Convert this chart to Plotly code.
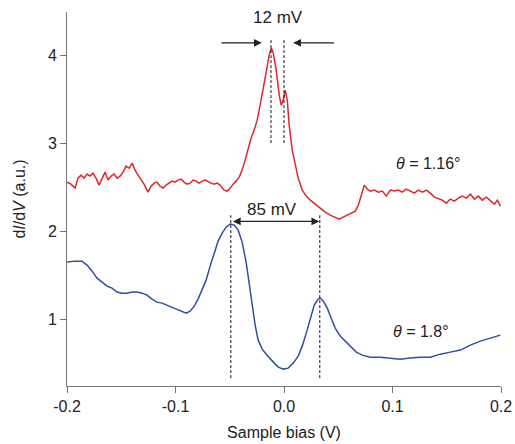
import plotly.graph_objects as go

# Red curve (theta = 1.16 deg)
red_x = [-0.200, -0.1963, -0.1926, -0.1899, -0.1871, -0.1843, -0.1815, -0.1788, -0.1760, -0.1732,
         -0.1705, -0.1677, -0.1649, -0.1622, -0.1594, -0.1566, -0.1539, -0.1511, -0.1483, -0.1456,
         -0.1428, -0.1400, -0.1373, -0.1345, -0.1317, -0.1290, -0.1253, -0.1225, -0.1197, -0.1170,
         -0.1142, -0.1114, -0.1087, -0.1059, -0.1031, -0.1004, -0.0976, -0.0948, -0.0921, -0.0893,
         -0.0865, -0.0838, -0.0810, -0.0782, -0.0755, -0.0727, -0.0699, -0.0672, -0.0644, -0.0616,
         -0.0589, -0.0552, -0.0524, -0.0496, -0.0469, -0.0441, -0.0413, -0.0386, -0.0358, -0.0330,
         -0.0303, -0.0275, -0.0247, -0.0220, -0.0192, -0.0164, -0.0137, -0.0118, -0.0100, -0.0072,
         -0.0044, -0.0026, -0.0007, 0.0011, 0.0030, 0.0048, 0.0076, 0.0103, 0.0131, 0.0168,
         0.0205, 0.0242, 0.0288, 0.0334, 0.0380, 0.0426, 0.0472, 0.0509, 0.0546, 0.0583,
         0.0620, 0.0657, 0.0685, 0.0712, 0.0740, 0.0768, 0.0795, 0.0832, 0.0869, 0.0906,
         0.0943, 0.0980, 0.1017, 0.1054, 0.1090, 0.1127, 0.1164, 0.1201, 0.1238, 0.1275,
         0.1312, 0.1349, 0.1386, 0.1423, 0.1459, 0.1496, 0.1533, 0.1570, 0.1607, 0.1644,
         0.1681, 0.1718, 0.1755, 0.1791, 0.1828, 0.1865, 0.1902, 0.1939, 0.1967, 0.1994]
red_y = [2.557, 2.534, 2.489, 2.602, 2.636, 2.602, 2.648, 2.625, 2.659, 2.602,
         2.523, 2.602, 2.670, 2.580, 2.625, 2.648, 2.602, 2.625, 2.670, 2.739,
         2.716, 2.773, 2.693, 2.636, 2.580, 2.534, 2.443, 2.511, 2.545, 2.557,
         2.511, 2.489, 2.523, 2.545, 2.568, 2.557, 2.580, 2.591, 2.557, 2.534,
         2.545, 2.580, 2.568, 2.545, 2.568, 2.580, 2.557, 2.545, 2.534, 2.545,
         2.523, 2.466, 2.455, 2.489, 2.534, 2.568, 2.614, 2.693, 2.807, 2.943,
         3.057, 3.148, 3.261, 3.432, 3.602, 3.807, 4.000, 4.080, 4.034, 3.830,
         3.545, 3.432, 3.489, 3.602, 3.489, 3.205, 2.920, 2.750, 2.602, 2.466,
         2.398, 2.352, 2.307, 2.261, 2.216, 2.182, 2.159, 2.136, 2.159, 2.182,
         2.205, 2.227, 2.295, 2.409, 2.523, 2.477, 2.455, 2.466, 2.443, 2.455,
         2.398, 2.466, 2.455, 2.466, 2.443, 2.477, 2.455, 2.432, 2.466, 2.443,
         2.466, 2.432, 2.386, 2.364, 2.352, 2.318, 2.364, 2.341, 2.375, 2.398,
         2.375, 2.420, 2.364, 2.398, 2.352, 2.386, 2.341, 2.307, 2.352, 2.284]

# Blue curve (theta = 1.8 deg)
blue_x = [-0.200, -0.1926, -0.1862, -0.1815, -0.1769, -0.1723, -0.1677, -0.1631, -0.1585, -0.1539,
          -0.1493, -0.1446, -0.1400, -0.1354, -0.1308, -0.1262, -0.1216, -0.1170, -0.1124, -0.1077,
          -0.1031, -0.0985, -0.0939, -0.0902, -0.0865, -0.0828, -0.0792, -0.0755, -0.0718, -0.0681,
          -0.0644, -0.0607, -0.0570, -0.0533, -0.0496, -0.0459, -0.0422, -0.0386, -0.0349, -0.0321,
          -0.0293, -0.0266, -0.0238, -0.0201, -0.0164, -0.0127, -0.0090, -0.0053, -0.0007, 0.0039,
          0.0085, 0.0131, 0.0168, 0.0205, 0.0242, 0.0279, 0.0315, 0.0334, 0.0362, 0.0399,
          0.0435, 0.0472, 0.0518, 0.0565, 0.0611, 0.0666, 0.0721, 0.0795, 0.0887, 0.0980,
          0.1072, 0.1164, 0.1256, 0.1349, 0.1441, 0.1533, 0.1625, 0.1718, 0.1810, 0.1902, 0.1994]
blue_y = [1.648, 1.659, 1.659, 1.614, 1.545, 1.466, 1.420, 1.375, 1.352, 1.307,
          1.295, 1.295, 1.307, 1.307, 1.295, 1.273, 1.227, 1.193, 1.182, 1.159,
          1.136, 1.114, 1.091, 1.068, 1.091, 1.148, 1.227, 1.330, 1.443, 1.602,
          1.750, 1.886, 1.977, 2.045, 2.080, 2.068, 2.011, 1.875, 1.648, 1.420,
          1.159, 0.932, 0.761, 0.659, 0.602, 0.545, 0.500, 0.455, 0.432, 0.443,
          0.500, 0.580, 0.693, 0.841, 1.011, 1.159, 1.227, 1.239, 1.205, 1.125,
          1.011, 0.898, 0.807, 0.750, 0.693, 0.625, 0.591, 0.568, 0.568, 0.557,
          0.545, 0.557, 0.568, 0.568, 0.602, 0.625, 0.648, 0.705, 0.750, 0.784, 0.818]

x_ticks = [-0.2, -0.1, 0.0, 0.1, 0.2]
x_tick_labels = ["-0.2", "-0.1", "0.0", "0.1", "0.2"]
y_ticks = [1, 2, 3, 4]

red_peaks = [-0.012, 0.0]
blue_peaks = [-0.049, 0.033]

FONT = "Liberation Sans, Arial, sans-serif"
TXT = "#222222"
AX = "#777777"

fig = go.Figure()
fig.add_trace(go.Scatter(x=red_x, y=red_y, mode="lines",
                         line=dict(color="#e0252e", width=1.5), showlegend=False))
fig.add_trace(go.Scatter(x=blue_x, y=blue_y, mode="lines",
                         line=dict(color="#2f4f9e", width=1.5), showlegend=False))

shapes = []
for px in red_peaks:
    shapes.append(dict(type="line", xref="x", yref="y", x0=px, x1=px, y0=3.0, y1=4.17,
                       line=dict(color="#111", width=1, dash="3px,2px")))
for px in blue_peaks:
    shapes.append(dict(type="line", xref="x", yref="y", x0=px, x1=px, y0=0.33, y1=2.18,
                       line=dict(color="#111", width=1, dash="3px,2px")))

annotations = [
    # 12 mV arrows
    dict(x=-0.0205, y=4.14, ax=-0.059, ay=4.14, xref="x", yref="y", axref="x", ayref="y",
         showarrow=True, arrowhead=2, arrowsize=1.2, arrowwidth=1.3, arrowcolor="#222", text=""),
    dict(x=0.0085, y=4.14, ax=0.0475, ay=4.14, xref="x", yref="y", axref="x", ayref="y",
         showarrow=True, arrowhead=2, arrowsize=1.2, arrowwidth=1.3, arrowcolor="#222", text=""),
    dict(x=-0.0055, y=4.43, text="12 mV", showarrow=False, xref="x", yref="y",
         font=dict(family=FONT, size=17, color=TXT)),
    # 85 mV double arrow
    dict(x=0.0325, y=2.11, ax=-0.0485, ay=2.11, xref="x", yref="y", axref="x", ayref="y",
         showarrow=True, arrowhead=2, startarrowhead=2, arrowside="end+start",
         arrowsize=1.2, startarrowsize=1.2, arrowwidth=1.3, arrowcolor="#222", text=""),
    dict(x=-0.011, y=2.25, text="85 mV", showarrow=False, xref="x", yref="y",
         font=dict(family=FONT, size=17, color=TXT)),
    dict(x=0.133, y=2.77, text="<i>θ</i> = 1.16°", showarrow=False, xref="x", yref="y",
         font=dict(family=FONT, size=16, color=TXT)),
    dict(x=0.126, y=0.86, text="<i>θ</i> = 1.8°", showarrow=False, xref="x", yref="y",
         font=dict(family=FONT, size=16, color=TXT)),
]

fig.update_layout(
    width=515, height=444,
    margin=dict(l=67, r=14, t=12, b=58, autoexpand=False),
    plot_bgcolor="white", paper_bgcolor="white",
    font=dict(family=FONT, size=16, color=TXT),
    shapes=shapes, annotations=annotations,
    xaxis=dict(range=[-0.2, 0.2], tickvals=x_ticks, ticktext=x_tick_labels,
               showline=True, linecolor=AX, linewidth=1, ticks="outside", ticklen=6,
               tickcolor=AX, showgrid=False, zeroline=False, automargin=False,
               tickfont=dict(family=FONT, size=16, color=TXT),
               title=dict(text="Sample bias (V)", standoff=12,
                          font=dict(family=FONT, size=16, color=TXT))),
    yaxis=dict(range=[0.24, 4.49], tickvals=y_ticks,
               showline=True, linecolor=AX, linewidth=1, ticks="outside", ticklen=6,
               tickcolor=AX, showgrid=False, zeroline=False, automargin=False,
               tickfont=dict(family=FONT, size=16, color=TXT),
               title=dict(text="d<i>I</i>/d<i>V</i> (a.u.)", standoff=18,
                          font=dict(family=FONT, size=16, color=TXT))),
)

fig.write_html("out.html")
